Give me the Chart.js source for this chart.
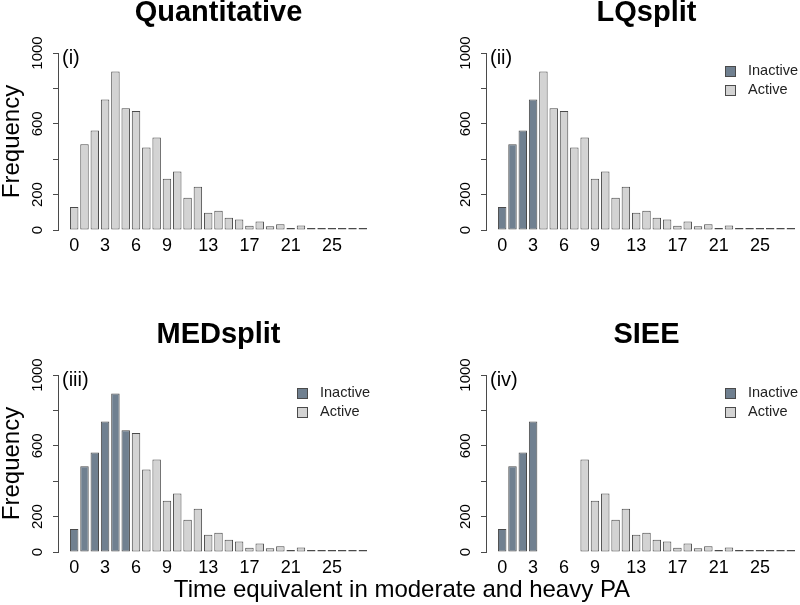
<!DOCTYPE html>
<html>
<head>
<meta charset="utf-8">
<script src="https://cdn.jsdelivr.net/npm/chart.js@4.4.0/dist/chart.umd.min.js"></script>
<style>
html, body { margin: 0; padding: 0; width: 800px; height: 605px; overflow: hidden; background: #fff; }
body { position: relative; }
canvas { position: absolute; }
#xtitle { position: absolute; left: 0; width: 804px; top: 577px; text-align: center;
  font: 24px/24px "Liberation Sans", Arial, sans-serif; color: #000; }
</style>
</head>
<body>
<canvas id="c0" width="420" height="300" style="left:0;top:-4px"></canvas>
<canvas id="c1" width="420" height="300" style="left:400px;top:-4px"></canvas>
<canvas id="c2" width="420" height="290" style="left:0;top:318px"></canvas>
<canvas id="c3" width="420" height="290" style="left:400px;top:318px"></canvas>
<div id="xtitle">Time equivalent in moderate and heavy PA</div>
<script>
// bins of the histogram (time equivalent) and their counts
var bins = [0, 1, 2, 3, 4, 5, 6, 7, 8, 9, 10, 11, 12, 13, 14, 15, 16, 17, 18, 19, 20, 21, 22, 23, 24, 25, 26, 27, 28];
var frequency = [130, 485, 562, 737, 896, 688, 673, 466, 523, 289, 330, 182, 244, 97, 109, 69, 59, 24, 48, 21, 32, 9, 25, 4, 9, 2, 2, 2, 2];

var xTickLabels = [0, 3, 6, 9, 13, 17, 21, 25];
var yTickLabels = [0, 200, 600, 1000];

var titles = ["Quantitative", "LQsplit", "MEDsplit", "SIEE"];
var tags = ["(i)", "(ii)", "(iii)", "(iv)"];
// last bin counted as inactive, first bin counted as active (-1 = no inactive group)
var inactiveTo = [-1, 3, 5, 3];
var activeFrom = [0, 4, 6, 8];

var INACTIVE = "#708090";
var ACTIVE = "#d3d3d3";
var EDGE = "#4a4a4a";
var FONT = '"Liberation Sans", Arial, sans-serif';

Chart.defaults.font.family = FONT;
Chart.defaults.color = "#000";

// R-like extras: rotated y labels, panel tag, small legend
var rStyle = {
  id: "rStyle",
  afterDraw: function (chart, args, opts) {
    var ctx = chart.ctx, a = chart.chartArea, ys = chart.scales.y;
    ctx.save();
    ctx.fillStyle = "#000";
    ctx.textBaseline = "middle";
    ctx.font = "15px " + FONT;
    ctx.textAlign = "center";
    yTickLabels.forEach(function (v) {
      ctx.save();
      ctx.translate(a.left - 20, ys.getPixelForValue(v));
      ctx.rotate(-Math.PI / 2);
      ctx.fillText(String(v), 0, 0);
      ctx.restore();
    });
    ctx.font = "20px " + FONT;
    ctx.textAlign = "left";
    ctx.fillText(opts.tag, a.left + 4, a.top + 5);
    var ds = chart.data.datasets;
    if (ds.length > 1) {
      ctx.font = "14.5px " + FONT;
      ds.forEach(function (d, k) {
        var cy = Math.round(a.top + 18 + k * 19);
        var sx = Math.round(a.left + 239);
        ctx.fillStyle = d.backgroundColor;
        ctx.fillRect(sx, cy - 5, 10, 10);
        ctx.strokeStyle = EDGE;
        ctx.lineWidth = 1;
        ctx.strokeRect(sx + 0.5, cy - 4.5, 10, 10);
        ctx.fillStyle = "#222";
        ctx.fillText(d.label, a.left + 262, cy);
      });
    }
    ctx.restore();
  }
};

function points(from, to) {
  var out = [];
  bins.forEach(function (b, i) {
    if (b >= from && b <= to) out.push({ x: b, y: frequency[i] });
  });
  return out;
}

function makeChart(p) {
  var left = (p % 2 === 0) ? 58 : 86;
  var bottomRow = p >= 2;
  var datasets = [];
  if (inactiveTo[p] >= 0) {
    datasets.push({ label: "Inactive", data: points(0, inactiveTo[p]), backgroundColor: INACTIVE });
  }
  datasets.push({ label: "Active", data: points(activeFrom[p], 1000), backgroundColor: ACTIVE });
  datasets.forEach(function (d) {
    d.borderColor = EDGE;
    d.borderWidth = 1;
    d.borderSkipped = false;
    d.grouped = false;
    d.minBarLength = 2;
    d.barPercentage = 0.82;
    d.categoryPercentage = 1;
  });

  return new Chart(document.getElementById("c" + p), {
    type: "bar",
    data: { datasets: datasets },
    plugins: [rStyle],
    options: {
      responsive: false,
      animation: false,
      layout: { padding: { left: 0, right: 420 - left - 321, top: 0, bottom: 0 } },
      plugins: {
        legend: { display: false },
        tooltip: { enabled: false },
        title: {
          display: true,
          text: titles[p],
          fullSize: false,
          color: "#000",
          font: { size: 29, weight: "bold", lineHeight: 1.2 },
          padding: { top: 0, bottom: 22.2 }
        },
        rStyle: { tag: tags[p] }
      },
      scales: {
        x: {
          type: "linear",
          position: "bottom",
          offset: false,
          min: -1.57,
          max: 29.57,
          grid: { display: false, drawTicks: false, offset: false },
          border: { display: false },
          ticks: { autoSkip: false, maxRotation: 0, padding: 5, color: "#000", font: { size: 18 } },
          afterBuildTicks: function (s) {
            s.ticks = xTickLabels.map(function (v) { return { value: v }; });
          },
          afterFit: function (s) { s.height = bottomRow ? 56 : 66; }
        },
        y: {
          type: "linear",
          min: 0,
          max: 1000,
          ticks: { stepSize: 200, display: false },
          grid: { drawOnChartArea: false, drawTicks: true, tickLength: 5, color: EDGE },
          border: { display: true, color: EDGE, width: 1 },
          title: {
            display: p % 2 === 0,
            text: "Frequency",
            color: "#000",
            padding: 0,
            font: { size: 24, lineHeight: 1 }
          },
          afterFit: function (s) { s.width = left; }
        }
      }
    }
  });
}

[0, 1, 2, 3].forEach(makeChart);
</script>
</body>
</html>
